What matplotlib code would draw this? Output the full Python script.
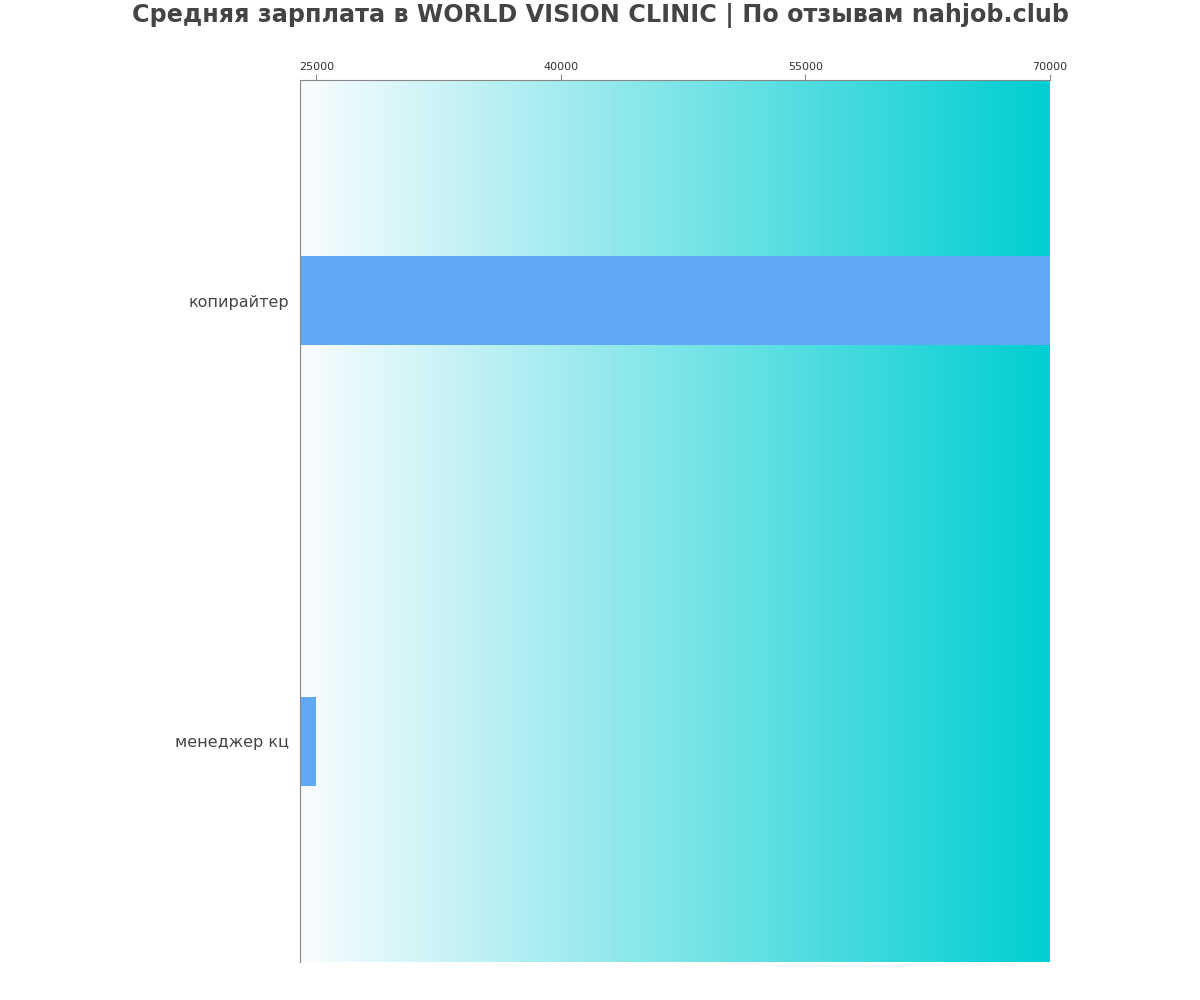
import numpy as np
import matplotlib.pyplot as plt
from matplotlib.colors import LinearSegmentedColormap

# salaries by position
positions = ['копирайтер', 'менеджер кц']
salaries = [70000, 25000]
xticks = [25000, 40000, 55000, 70000]

fig, ax = plt.subplots(figsize=(12, 10), dpi=100)
fig.subplots_adjust(left=0.25, right=0.875, top=0.92, bottom=0.038)

ax.set_xlim(24000, 70000)
ax.set_ylim(1.5, -0.5)

# gradient background
cmap = LinearSegmentedColormap.from_list('bg', ['#fafcff', '#00ced1'])
grad = np.linspace(0, 1, 256).reshape(1, -1)
ax.imshow(grad, cmap=cmap, aspect='auto', extent=(24000, 70000, 1.5, -0.5), zorder=0)

ax.barh(range(len(positions)), salaries, height=0.2, color='#61a8f5', zorder=2)

ax.set_yticks(range(len(positions)))
ax.set_yticklabels(positions, fontsize=11.5, color='#444444')
ax.set_xticks(xticks)
ax.set_xticklabels([str(t) for t in xticks], fontsize=8, color='#333333')
ax.xaxis.tick_top()
ax.tick_params(axis='y', length=0, pad=8)
ax.tick_params(axis='x', length=4, color='#888888', pad=2)
for lbl in ax.get_yticklabels():
    lbl.set_va('center_baseline')

for side in ['right', 'bottom']:
    ax.spines[side].set_visible(False)
for side in ['top', 'left']:
    ax.spines[side].set_color('#888888')

fig.suptitle('Средняя зарплата в WORLD VISION CLINIC | По отзывам nahjob.club',
             fontsize=17.2, fontweight='bold', color='#444444', y=0.997)

plt.savefig('out.png')
